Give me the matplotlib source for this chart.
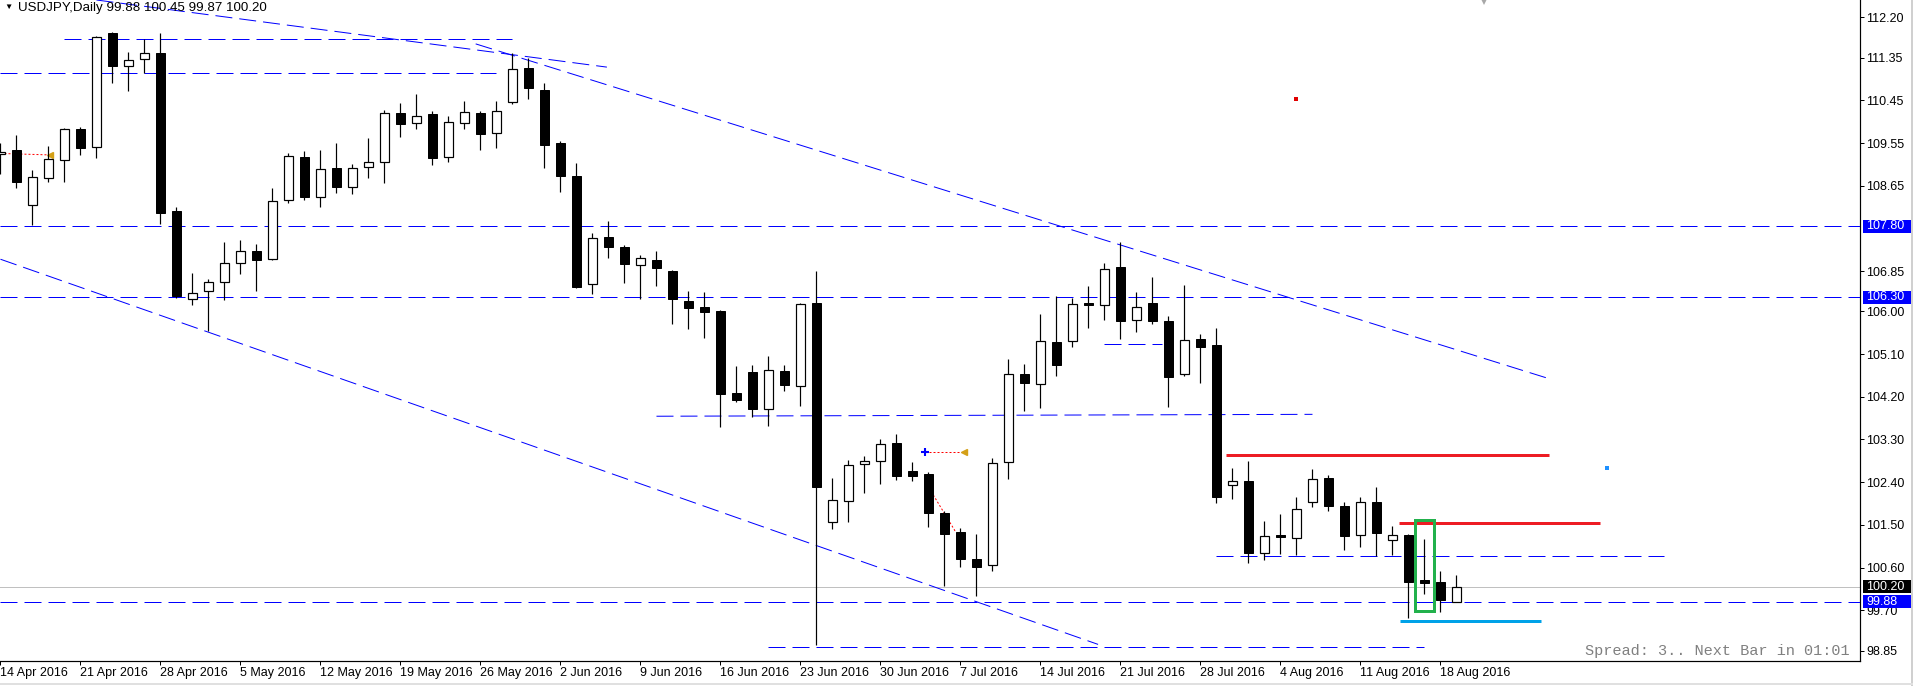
import numpy as np
import pandas as pd
import matplotlib
matplotlib.use("Agg")
import matplotlib.pyplot as plt
from matplotlib.patches import Rectangle
from matplotlib.lines import Line2D

# ===== data =====
symbol = "USDJPY,Daily"
dates = pd.bdate_range("2016-04-14", "2016-08-19")

opens = [109.32, 109.40, 108.24, 108.81, 109.19, 109.85, 109.46, 111.86, 111.18, 111.32,
         111.44, 108.12, 106.26, 106.42, 106.63, 107.03, 107.27, 107.10, 108.34, 109.26,
         108.41, 109.02, 108.63, 109.04, 109.14, 110.18, 109.97, 110.16, 109.26, 109.97,
         110.18, 109.76, 110.41, 111.13, 110.67, 109.55, 108.85, 106.57, 107.56, 107.35,
         106.97, 107.08, 106.85, 106.22, 106.09, 106.01, 104.27, 104.72, 103.94, 104.74,
         104.42, 106.17, 101.55, 102.00, 102.78, 102.84, 103.22, 102.63, 102.57, 101.74,
         101.34, 100.77, 100.65, 102.82, 104.69, 104.46, 105.35, 105.37, 106.17, 106.13,
         106.93, 105.81, 106.17, 105.80, 104.67, 105.42, 105.29, 102.33, 102.42, 100.90,
         101.28, 101.23, 101.99, 102.48, 101.90, 101.29, 101.98, 101.19, 101.28, 100.33,
         100.29, 99.88]
highs = [109.54, 109.72, 108.98, 109.49, 109.86, 109.89, 111.81, 111.88, 111.47, 111.74,
         111.86, 108.20, 106.82, 106.68, 107.47, 107.51, 107.42, 108.60, 109.35, 109.38,
         109.40, 109.54, 109.11, 109.66, 110.25, 110.39, 110.58, 110.23, 110.12, 110.44,
         110.23, 110.44, 111.44, 111.35, 110.81, 109.59, 109.13, 107.65, 107.91, 107.40,
         107.19, 107.27, 106.87, 106.43, 106.41, 106.03, 104.85, 104.87, 105.06, 104.87,
         106.17, 106.85, 102.49, 102.87, 102.95, 103.31, 103.42, 102.82, 102.61, 101.79,
         101.43, 101.31, 102.92, 105.00, 104.89, 105.94, 106.32, 106.29, 106.54, 107.03,
         107.47, 106.41, 106.73, 105.90, 106.56, 105.52, 105.66, 102.70, 102.85, 101.58,
         101.72, 102.09, 102.68, 102.55, 101.98, 102.09, 102.30, 101.47, 101.30, 101.20,
         100.53, 100.45]
lows = [108.90, 108.60, 107.82, 108.73, 108.73, 109.30, 109.24, 110.82, 110.65, 111.02,
        107.84, 106.28, 106.14, 105.58, 106.24, 106.79, 106.43, 107.08, 108.28, 108.35,
        108.21, 108.50, 108.47, 108.82, 108.71, 109.68, 109.84, 109.09, 109.16, 109.85,
        109.40, 109.45, 110.37, 110.48, 109.03, 108.52, 106.50, 106.37, 107.13, 106.59,
        106.26, 106.54, 105.74, 105.62, 105.43, 103.56, 104.08, 103.78, 103.59, 104.33,
        104.01, 98.97, 101.41, 101.57, 102.17, 102.37, 102.45, 102.43, 101.46, 100.22,
        100.62, 99.99, 100.53, 102.46, 103.91, 103.97, 104.64, 105.26, 105.64, 105.82,
        105.42, 105.57, 105.74, 103.99, 104.64, 104.50, 101.97, 102.04, 100.69, 100.76,
        100.88, 100.86, 101.88, 101.80, 100.98, 101.03, 100.84, 100.86, 99.54, 100.05,
        99.67, 99.87]
closes = [109.37, 108.73, 108.83, 109.21, 109.84, 109.45, 111.78, 111.18, 111.29, 111.44,
          108.08, 106.32, 106.39, 106.61, 107.01, 107.27, 107.09, 108.32, 109.28, 108.42,
          109.00, 108.63, 109.02, 109.14, 110.18, 109.95, 110.13, 109.23, 109.99, 110.20,
          109.75, 110.22, 111.10, 110.72, 109.51, 108.86, 106.52, 107.54, 107.36, 106.99,
          107.12, 106.92, 106.27, 106.08, 105.99, 104.25, 104.14, 103.95, 104.76, 104.44,
          106.15, 102.29, 102.02, 102.76, 102.84, 103.20, 102.54, 102.54, 101.76, 101.31,
          100.79, 100.62, 102.80, 104.69, 104.50, 105.37, 104.86, 106.15, 106.14, 106.89,
          105.80, 106.09, 105.80, 104.62, 105.39, 105.26, 102.09, 102.42, 100.90, 101.26,
          101.25, 101.83, 102.46, 101.90, 101.27, 101.98, 101.33, 101.28, 100.30, 100.28,
          99.91, 100.20]

price_ticks = [112.20, 111.35, 110.45, 109.55, 108.65, 106.85, 106.00, 105.10,
               104.20, 103.30, 102.40, 101.50, 100.60, 99.70, 98.85]

# horizontal lines drawn over the whole chart (with price tags)
tagged_levels = [107.80, 106.30, 99.88]
# horizontal line segments: (price, first bar, last bar)
level_segments = [(111.74, 4.0, 32.0), (111.03, 0.0, 31.0), (105.31, 69.0, 72.6),
                  (98.92, 48.0, 89.0), (100.84, 76.0, 104.0)]
# trend lines: (bar0, price0, bar1, price1)
trend_lines = [(6.0, 112.565, 37.9, 111.15), (29.7, 111.64, 96.9, 104.57),
               (0.0, 107.10, 68.6, 98.98), (41.0, 103.79, 82.0, 103.83)]
# hand drawn marks
red_levels = [(102.97, 76.6, 96.8), (101.54, 87.4, 100.0)]
cyan_level = (99.47, 87.5, 96.3)
green_box = (88.4, 89.6, 99.68, 101.60)

# ===== figure =====
W, H = 1918, 686
PLOT_W, PLOT_H = 1860, 661
px = 0.72  # one pixel in points at dpi 100
plt.rcParams['font.family'] = ['Liberation Sans', 'DejaVu Sans']

fig = plt.figure(figsize=(W / 100, H / 100), dpi=100, facecolor='white')
ax = fig.add_axes([0, (H - PLOT_H) / H, PLOT_W / W, PLOT_H / H])
ax.set_facecolor('white')

ax.set_xlim(-0.03, 116.22)
ax.set_ylim(98.63, 112.565)
ppu = PLOT_H / (112.565 - 98.63)  # pixels per price unit

x = np.arange(len(opens))
o, h, l, c = map(np.array, (opens, highs, lows, closes))
up = c >= o
body = np.maximum(np.abs(c - o), 0.03)
bottom = np.minimum(o, c)

# --- objects (under candles) ---
dash = (17, 7)
for lv in tagged_levels:
    ax.axhline(lv, color='#0000ff', lw=px, dashes=dash, zorder=3)
for lv, x0, x1 in level_segments:
    ax.plot([x0, x1], [lv, lv], color='#0000ff', lw=px, dashes=dash, zorder=3)
for x0, y0, x1, y1 in trend_lines:
    ax.plot([x0, x1], [y0, y1], color='#0000ff', lw=px, dashes=dash, zorder=3)
ax.axhline(closes[-1], color='#c0c0c0', lw=px, zorder=2)

# trade arrows
ax.plot([0, 3.0], [109.33, 109.30], color='red', lw=px, dashes=(2, 2), zorder=4)
ax.plot([3.1], [109.30], marker='<', color='#d4a017', ms=5, zorder=4)
ax.plot([57.8, 60.2], [103.03, 103.03], color='red', lw=px, dashes=(2, 2), zorder=4)
ax.plot([57.8], [103.03], marker='+', color='#0000ff', ms=6, mew=1.5, zorder=4)
ax.plot([60.2], [103.03], marker='<', color='#d4a017', ms=5, zorder=4)
ax.plot([58.3, 59.7], [102.13, 101.35], color='red', lw=px, dashes=(2, 2), zorder=4)
ax.plot([81.0], [110.47], marker='s', color='#e00000', ms=2.5, mew=0, zorder=4)
ax.plot([100.4], [102.69], marker='s', color='#1e90ff', ms=2.2, mew=0, zorder=4)
ax.plot([92.75], [112.565], marker='v', color='#a8a8a8', ms=7, mew=0, clip_on=False, zorder=4)

# --- candles ---
ax.vlines(x, l, h, color='black', lw=px * 1.2, zorder=5)
ax.bar(x[up], body[up], bottom=bottom[up], width=0.6, color='white',
       edgecolor='black', linewidth=px * 1.2, zorder=6)
ax.bar(x[~up], body[~up], bottom=bottom[~up], width=0.6, color='black',
       edgecolor='black', linewidth=px, zorder=6)

# --- hand drawn marks ---
for lv, x0, x1 in red_levels:
    ax.plot([x0, x1], [lv, lv], color='#ed1c24', lw=3 * px, solid_capstyle='butt', zorder=8)
ax.plot([cyan_level[1], cyan_level[2]], [cyan_level[0]] * 2, color='#00a2e8',
        lw=3 * px, solid_capstyle='butt', zorder=8)
gx0, gx1, gy0, gy1 = green_box
ax.add_patch(Rectangle((gx0, gy0), gx1 - gx0, gy1 - gy0, fill=False,
                       ec='#22b14c', lw=3 * px, zorder=8))

# --- axes ---
for side in ['left', 'top']:
    ax.spines[side].set_visible(False)
for side in ['right', 'bottom']:
    ax.spines[side].set_linewidth(px * 1.2)
    ax.spines[side].set_color('black')

ax.yaxis.tick_right()
ax.set_yticks(price_ticks)
ax.set_yticklabels([f"{t:.2f}" for t in price_ticks])
ax.tick_params(axis='y', direction='out', length=4 * px, width=px, pad=2 * px,
               labelsize=9, colors='black')

thursdays = [i for i, d in enumerate(dates) if d.weekday() == 3]
ax.set_xticks(thursdays)
ax.set_xticklabels([f"{dates[i].day} {dates[i]:%b %Y}" for i in thursdays])
ax.tick_params(axis='x', direction='out', length=4 * px, width=px, pad=2 * px,
               labelsize=9, colors='black')
for lbl in ax.get_xticklabels():
    lbl.set_ha('left')

ytr = ax.get_yaxis_transform()


def price_tag(value, face):
    ax.add_patch(Rectangle((1 + 2.5 / PLOT_W, value - 6.5 / ppu), 49 / PLOT_W, 13 / ppu,
                           transform=ytr, clip_on=False, fc=face, ec='none', zorder=10))
    ax.text(1 + 6.5 / PLOT_W, value, f"{value:.2f}", transform=ytr, color='white',
            fontsize=9, va='center', ha='left', zorder=11, clip_on=False)


for lv in tagged_levels:
    price_tag(lv, '#0000ff')
price_tag(closes[-1], 'black')

# header + status text
fig.text(4 / W, 1 - 7.5 / H, "\u25BC", fontsize=6, va='center', ha='left', color='black')
fig.text(18 / W, 1 - 7.7 / H,
         f"{symbol} {opens[-1]:.2f} {highs[-1]:.2f} {lows[-1]:.2f} {closes[-1]:.2f}",
         fontsize=9.6, va='center', ha='left', color='black')
ax.text(1 - 10 / PLOT_W, 10 / PLOT_H, "Spread: 3.. Next Bar in 01:01",
        transform=ax.transAxes, family='Liberation Mono', fontsize=11,
        color='#808080', ha='right', va='center', zorder=9)

# window borders
fig.add_artist(Line2D([1912 / W, 1912 / W], [0, 1], transform=fig.transFigure,
                      color='#d0d0d0', lw=px * 2))
fig.add_artist(Line2D([0, 1912 / W], [2 / H, 2 / H], transform=fig.transFigure,
                      color='#e0e0e0', lw=px * 2))

fig.savefig("out.png", dpi=100, facecolor='white')
